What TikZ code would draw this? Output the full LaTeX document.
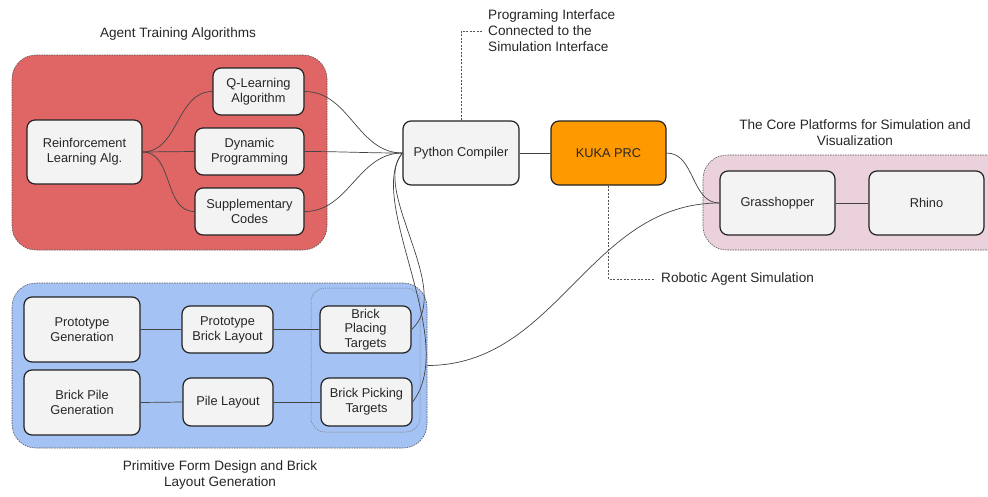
\documentclass[tikz,border=0pt]{standalone}
\usepackage{fontspec}
\setmainfont{Liberation Sans}
\definecolor{redgrp}{HTML}{E06666}
\definecolor{bluegrp}{HTML}{A4C2F4}
\definecolor{pinkgrp}{HTML}{EAD1DC}
\definecolor{kuka}{HTML}{FF9900}
\definecolor{boxfill}{HTML}{F3F3F3}
\definecolor{edge}{HTML}{222222}
\definecolor{grpline}{HTML}{555555}
\begin{document}
\begin{tikzpicture}[x=1pt,y=-1pt,
  font=\fontsize{12.8}{15}\selectfont,
  box/.style={draw=edge, line width=1.2pt, fill=boxfill, rounded corners=8pt, align=center, inner sep=2pt, text=black!85},
  grp/.style={draw=grpline, line width=0.6pt, dash pattern=on 1.5pt off 1pt, rounded corners=24pt},
  conn/.style={draw=edge!85, line width=0.7pt},
  lead/.style={draw=grpline, line width=0.6pt, dash pattern=on 2pt off 1.5pt},
  lbl/.style={align=center, inner sep=1pt, text=black!85, font=\fontsize{13.6}{16}\selectfont}
]
\clip (0,0) rectangle (988,496);
\useasboundingbox (0,0) rectangle (988,496);

% groups
\node[grp, fill=redgrp, minimum width=315pt, minimum height=195pt, inner sep=0pt] (red) at (169.5,152.5) {};
\node[grp, fill=bluegrp, minimum width=415pt, minimum height=165pt, inner sep=0pt] (blue) at (219.5,365.5) {};
\node[grp, fill=pinkgrp, minimum width=340pt, minimum height=95pt, inner sep=0pt] (pink) at (873,202.5) {};
\node[draw=grpline!80, line width=0.5pt, dash pattern=on 1pt off 1pt, rounded corners=14pt, minimum width=109pt, minimum height=144pt, inner sep=0pt] (inner) at (365.5,360) {};

% group titles
\node[lbl] (t1) at (178,34) {Agent Training Algorithms};
\node[lbl] (t2) at (855,133) {The Core Platforms for Simulation and\\Visualization};
\node[lbl] (t3) at (220,475) {Primitive Form Design and Brick\\Layout Generation};
\node[lbl, anchor=west, align=left] (pil) at (487,31) {Programing Interface\\Connected to the\\Simulation Interface};
\node[lbl, anchor=west] (ras) at (660,279) {Robotic Agent Simulation};

% boxes
\node[box, minimum width=115pt, minimum height=64pt] (rl) at (84.5,152) {Reinforcement\\Learning Alg.};
\node[box, minimum width=91pt, minimum height=47pt] (ql) at (258.5,91.5) {Q-Learning\\Algorithm};
\node[box, minimum width=109pt, minimum height=47pt] (dp) at (249.5,151.5) {Dynamic\\Programming};
\node[box, minimum width=109pt, minimum height=47pt] (sc) at (249.5,211.5) {Supplementary\\Codes};
\node[box, minimum width=116pt, minimum height=64pt] (py) at (461,153) {Python Compiler};
\node[box, fill=kuka, minimum width=115pt, minimum height=64pt] (ku) at (608.5,153) {KUKA PRC};
\node[box, minimum width=115pt, minimum height=64pt] (gh) at (777.5,203) {Grasshopper};
\node[box, minimum width=115pt, minimum height=64pt] (rh) at (926.5,203) {Rhino};
\node[box, minimum width=116pt, minimum height=65pt] (pg) at (82,329.5) {Prototype\\Generation};
\node[box, minimum width=91pt, minimum height=47pt] (pbl) at (227.5,329.5) {Prototype\\Brick Layout};
\node[box, minimum width=91pt, minimum height=47pt, font=\fontsize{12.8}{14.5}\selectfont] (bpl) at (365.5,329.5) {Brick\\Placing\\Targets};
\node[box, minimum width=116pt, minimum height=65pt] (bpg) at (82,402.5) {Brick Pile\\Generation};
\node[box, minimum width=90pt, minimum height=48pt] (pl) at (228,402) {Pile Layout};
\node[box, minimum width=91pt, minimum height=48pt] (bpk) at (366.5,402) {Brick Picking\\Targets};

% connectors
\draw[conn] (rl.east) to[out=0,in=180] (ql.west);
\draw[conn] (rl.east) -- (dp.west);
\draw[conn] (rl.east) to[out=0,in=180] (sc.west);
\draw[conn] (ql.east) to[out=0,in=180] (py.west);
\draw[conn] (dp.east) to[out=0,in=180] (py.west);
\draw[conn] (sc.east) to[out=0,in=180] (py.west);
\draw[conn] (bpl.east) .. controls (455,290) and (370,190) .. (py.west);
\draw[conn] (bpk.east) .. controls (460,340) and (365,200) .. (py.west);
\draw[conn] (py.east) -- (ku.west);
\draw[conn] (ku.east) to[out=0,in=180] (gh.west);
\draw[conn] (blue.east) to[out=0,in=180] (gh.west);
\draw[conn] (gh.east) -- (rh.west);
\draw[conn] (pg.east) -- (pbl.west);
\draw[conn] (pbl.east) -- (bpl.west);
\draw[conn] (bpg.east) -- (pl.west);
\draw[conn] (pl.east) -- (bpk.west);

% leader lines
\draw[lead, shorten >=4pt] (py.north) |- (pil.west);
\draw[lead, shorten >=6pt] (ku.south) |- (ras.west);
\end{tikzpicture}
\end{document}
